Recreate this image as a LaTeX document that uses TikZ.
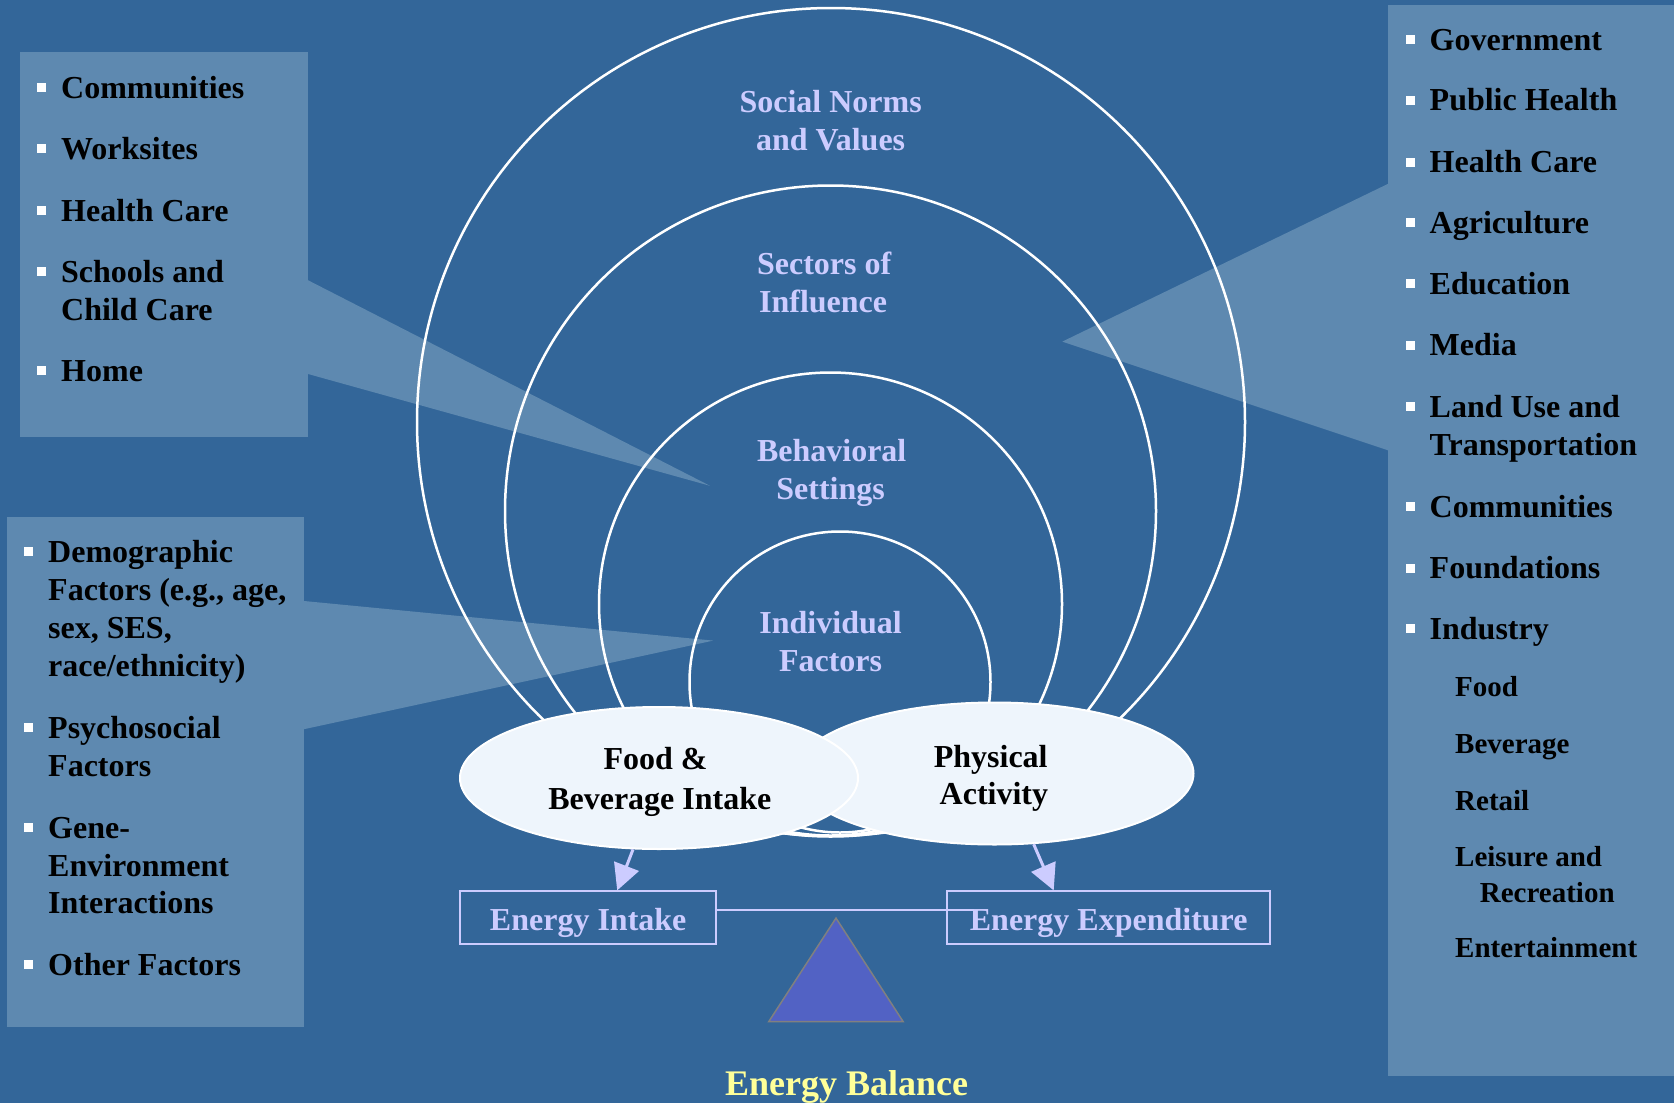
\documentclass[tikz,border=0pt]{standalone}
\usepackage{fontspec}
\setmainfont{Liberation Serif}
\usetikzlibrary{shapes.geometric,arrows.meta,calc}
\definecolor{bg}{RGB}{51,102,153}
\definecolor{panel}{RGB}{94,137,176}
\definecolor{lav}{RGB}{204,204,255}
\definecolor{ellfill}{RGB}{238,245,252}
\definecolor{tri}{RGB}{82,98,196}
\definecolor{ebal}{RGB}{255,255,153}
\newcommand\bul{\llap{{\color{white}\rule[6pt]{9pt}{9pt}}\hspace{15pt}}}
\begin{document}
\begin{tikzpicture}[x=1pt,y=-1pt,
  item/.style={anchor=base west, inner sep=0pt, font=\fontsize{32}{38}\selectfont\bfseries},
  subitem/.style={anchor=base west, inner sep=0pt, font=\fontsize{29}{33}\selectfont\bfseries},
  ring/.style={draw=white, line width=2.5pt},
  ringlabel/.style={anchor=base, inner sep=0pt, text=lav, font=\fontsize{32}{38}\selectfont\bfseries},
  ell/.style={ellipse, minimum width=398pt, minimum height=142pt, fill=ellfill, draw=white, line width=2pt, inner sep=0pt},
  etext/.style={anchor=base, inner sep=0pt, text=black, font=\fontsize{32}{38}\selectfont\bfseries},
  ebox/.style={draw=lav, line width=2pt, text=lav, minimum height=52.4pt, inner sep=0pt, text height=28.4pt, text depth=2pt, font=\fontsize{32}{38}\selectfont\bfseries},
  conn/.style={draw=lav, line width=3pt, -{Triangle[length=26pt, width=26pt]}},
]
\useasboundingbox (0,0) rectangle (1674,1103);
\fill[bg] (0,0) rectangle (1674,1103);
% panels and callouts
\fill[panel] (20,52) rectangle (307.5,437);
\fill[panel] (307,279.7) -- (710,485.8) -- (307,373.7) -- cycle;
\fill[panel] (7,517) rectangle (304.3,1027);
\fill[panel] (304,601) -- (713.2,640.6) -- (304,729.2) -- cycle;
\fill[panel] (1388,5) rectangle (1674,1076);
\fill[panel] (1388.5,183.6) -- (1062.3,341.6) -- (1388.5,450.5) -- cycle;
% rings
\draw[ring] (831,422) circle[radius=414pt];
\draw[ring] (830.5,511) circle[radius=325.5pt];
\draw[ring] (830.5,604) circle[radius=231.5pt];
\draw[ring] (840,682) circle[radius=150.5pt];
% ring labels
\node[ringlabel] (r1a) at (830.6,112) {Social Norms};
\node[ringlabel] (r1b) at (830.6,150.4) {and Values};
\node[ringlabel] (r2a) at (824.2,274.2) {Sectors of};
\node[ringlabel] (r2b) at (823.1,312.6) {Influence};
\node[ringlabel] (r3a) at (831.7,461) {Behavioral};
\node[ringlabel] (r3b) at (830.6,499.5) {Settings};
\node[ringlabel] (r4a) at (830.6,633) {Individual};
\node[ringlabel] (r4b) at (830.6,671) {Factors};
% left top list
\node[item] (lt1) at (61,98) {\bul Communities};
\node[item] (lt2) at (61,159) {\bul Worksites};
\node[item] (lt3) at (61,221) {\bul Health Care};
\node[item] (lt4) at (61,282) {\bul Schools and};
\node[item] (lt5) at (61,320) {Child Care};
\node[item] (lt6) at (61,381) {\bul Home};
% left bottom list
\node[item] (lb1) at (48,562) {\bul Demographic};
\node[item] (lb2) at (48,600) {Factors (e.g., age,};
\node[item] (lb3) at (48,638) {sex, SES,};
\node[item] (lb4) at (48,676) {race/ethnicity)};
\node[item] (lb5) at (48,738) {\bul Psychosocial};
\node[item] (lb6) at (48,776.5) {Factors};
\node[item] (lb7) at (48,838) {\bul Gene-};
\node[item] (lb8) at (48,876) {Environment};
\node[item] (lb9) at (48,913.5) {Interactions};
\node[item] (lb10) at (48,975) {\bul Other Factors};
% right list
\node[item] (rp1) at (1429.5,50) {\bul Government};
\node[item] (rp2) at (1429.5,110.5) {\bul Public Health};
\node[item] (rp3) at (1429.5,172.5) {\bul Health Care};
\node[item] (rp4) at (1429.5,233.3) {\bul Agriculture};
\node[item] (rp5) at (1429.5,294.3) {\bul Education};
\node[item] (rp6) at (1429.5,355.5) {\bul Media};
\node[item] (rp7) at (1429.5,417) {\bul Land Use and};
\node[item] (rp8) at (1429.5,455.5) {Transportation};
\node[item] (rp9) at (1429.5,517.3) {\bul Communities};
\node[item] (rp10) at (1429.5,578.5) {\bul Foundations};
\node[item] (rp11) at (1429.5,639.3) {\bul Industry};
\node[subitem] (rs1) at (1455,696) {Food};
\node[subitem] (rs2) at (1455,753.7) {Beverage};
\node[subitem] (rs3) at (1455,810.3) {Retail};
\node[subitem] (rs4) at (1455,866.9) {Leisure and};
\node[subitem] (rs5) at (1479.7,902) {Recreation};
\node[subitem] (rs6) at (1455,957.6) {Entertainment};
% ellipses
\node[ell] (pa) at (994.5,773.5) {};
\node[ell] (fbi) at (659,778) {};
\node[etext] (fbi1) at (655.5,769.6) {Food \&};
\node[etext] (fbi2) at (659.8,809.1) {Beverage Intake};
\node[etext] (pa1) at (990.7,767.4) {Physical};
\node[etext] (pa2) at (993.9,804.8) {Activity};
% energy boxes
\node[ebox, minimum width=256.3pt] (ei) at (588.2,917.6) {Energy Intake};
\node[ebox, minimum width=323.4pt] (ee) at (1108.7,917.6) {Energy Expenditure};
\draw[draw=lav, line width=2pt] ($(ei.east)+(0,-8)$) -- ($(ee.west)+(28,-8)$);
% fulcrum
\filldraw[fill=tri, draw=gray, line width=1.5pt] (836,918.1) -- (903.2,1021.7) -- (768.7,1021.7) -- cycle;
% arrows
\draw[conn] (fbi.250) -- ($(ei.north)+(29,0)$);
\draw[conn] (pa.299) -- ($(ee.north)+(-55,0)$);
\node[anchor=base, inner sep=0pt, text=ebal, font=\fontsize{36}{40}\selectfont\bfseries] (eb) at (846.6,1095) {Energy Balance};
\end{tikzpicture}
\end{document}
